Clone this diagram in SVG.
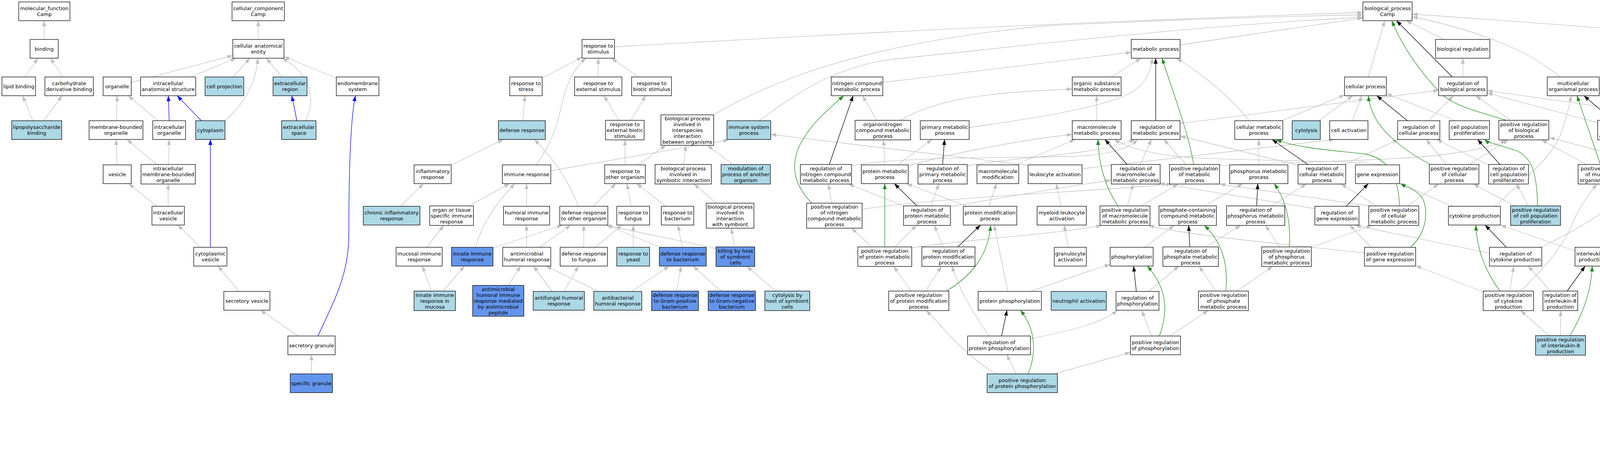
<svg xmlns="http://www.w3.org/2000/svg" width="5325" height="1203" viewBox="0 0 5325 1203">
<defs>
<style>
.nd rect{fill:#fff;stroke:#000;stroke-width:1.3}
.nd.lb rect{fill:#add8e6}
.nd.cb rect{fill:#6495ed}
.nd text{font-family:"DejaVu Sans","Liberation Sans",sans-serif;font-size:13px;text-anchor:middle;fill:#000}
#edges path{fill:none;stroke-width:1.3}
#edges .g{stroke:#c0c0c0;marker-end:url(#mg)}
#edges .k{stroke:#000;marker-end:url(#mk)}
#edges .gr{stroke:#228b22;marker-end:url(#mgr)}
#edges .b{stroke:#0000ff;marker-end:url(#mb)}
</style>
<marker id="mg" viewBox="0 0 14 10" refX="14" refY="5" markerWidth="14" markerHeight="10" markerUnits="userSpaceOnUse" orient="auto"><path d="M0,0L14,5L0,10z" fill="#c0c0c0"/></marker>
<marker id="mk" viewBox="0 0 14 10" refX="14" refY="5" markerWidth="14" markerHeight="10" markerUnits="userSpaceOnUse" orient="auto"><path d="M0,0L14,5L0,10z" fill="#000"/></marker>
<marker id="mgr" viewBox="0 0 14 10" refX="14" refY="5" markerWidth="14" markerHeight="10" markerUnits="userSpaceOnUse" orient="auto"><path d="M0,0L14,5L0,10z" fill="#228b22"/></marker>
<marker id="mb" viewBox="0 0 14 10" refX="14" refY="5" markerWidth="14" markerHeight="10" markerUnits="userSpaceOnUse" orient="auto"><path d="M0,0L14,5L0,10z" fill="#0000ff"/></marker>
</defs>
<rect width="5325" height="1203" fill="#fff"/>
<g id="edges">
<path class="g" d="M113,101L113,53"/>
<path class="g" d="M64,197L97,149"/>
<path class="g" d="M161,197L129,149"/>
<path class="g" d="M84,309L58,245"/>
<path class="g" d="M112,309L159,245"/>
<path class="g" d="M661,101L661,53"/>
<path class="g" d="M336,211L596,142"/>
<path class="g" d="M488,197L604,149"/>
<path class="g" d="M596,197L640,149"/>
<path class="g" d="M576,309C620,270 655,220 660,149"/>
<path class="g" d="M722,197L682,149"/>
<path class="g" d="M782,309C812,250 790,185 722,149"/>
<path class="g" d="M861,200L727,145"/>
<path class="g" d="M298,309L300,245"/>
<path class="g" d="M404.5,309L328.5,245"/>
<path class="g" d="M300,422L297,357"/>
<path class="g" d="M401,421L325,357"/>
<path class="g" d="M431,421L433,357"/>
<path class="g" d="M401,528L329.5,470"/>
<path class="g" d="M430.5,528L430.5,471"/>
<path class="g" d="M514,633L455,576"/>
<path class="g" d="M612,746L558,681"/>
<path class="g" d="M763,860L667,794"/>
<path class="g" d="M797,957L797.5,908"/>
<path class="b" d="M433,309L431,245"/>
<path class="b" d="M515.5,309L453.5,245"/>
<path class="b" d="M760,309L747,245"/>
<path class="b" d="M538.5,633L538.5,357"/>
<path class="b" d="M814,860C860,760 893,700 893,600C893,400 900,290 910,245"/>
<path class="g" d="M1573,120Q2600,60 3489,32"/>
<path class="g" d="M1388,200L1490,146"/>
<path class="g" d="M1372,422C1420,360 1430,300 1440,260C1455,200 1475,170 1500,149"/>
<path class="g" d="M1531.5,197L1531.5,149"/>
<path class="g" d="M1634,197L1565.5,149"/>
<path class="g" d="M1338,309L1344,245"/>
<path class="g" d="M1584,308L1546,245"/>
<path class="g" d="M1615,308L1653,245"/>
<path class="g" d="M1827,294C1960,215 2200,110 2680,66Q3100,45 3489,38"/>
<path class="g" d="M1944,309C2050,230 2150,165 2300,150C2600,120 3000,70 3489,44"/>
<path class="g" d="M1155,423L1288,357"/>
<path class="g" d="M1026,528L1084,470"/>
<path class="g" d="M1410,437L1866,358"/>
<path class="g" d="M1201,527L1304.5,470"/>
<path class="g" d="M1348,528L1348,470"/>
<path class="g" d="M1217,633C1235,570 1270,520 1318,470"/>
<path class="g" d="M1600,422L1600,358"/>
<path class="g" d="M1634,422L1704.5,372"/>
<path class="g" d="M1750,421L1756,372"/>
<path class="g" d="M1876,421L1811,372"/>
<path class="g" d="M1481,528C1450,450 1410,400 1368,357"/>
<path class="g" d="M1518.5,528L1576,470"/>
<path class="g" d="M1616,528L1604.8,470"/>
<path class="g" d="M1704,528L1630,470"/>
<path class="g" d="M1833,520L1777,471"/>
<path class="g" d="M1092,633L1136,577"/>
<path class="g" d="M1262,635L1440,576"/>
<path class="g" d="M1348,633L1348,576"/>
<path class="g" d="M1381.5,633L1461,576"/>
<path class="g" d="M1494.5,633L1494.5,576"/>
<path class="g" d="M1523.5,633L1592,576"/>
<path class="g" d="M1621,633L1621,576"/>
<path class="g" d="M1690,633L1552.5,576"/>
<path class="g" d="M1746,633L1736,576"/>
<path class="g" d="M1833,636C1720,610 1640,598 1553,576"/>
<path class="g" d="M1880,632L1872,584"/>
<path class="g" d="M1104,745L1081.5,681"/>
<path class="g" d="M1134,745L1189,681"/>
<path class="g" d="M1300.5,731L1333,681"/>
<path class="g" d="M1413,746L1366,681"/>
<path class="g" d="M1444,746L1481,681"/>
<path class="g" d="M1532,746L1398,681"/>
<path class="g" d="M1617,746L1713,681"/>
<path class="g" d="M1732,745L1744,681"/>
<path class="g" d="M1845.7,745L1774.6,681"/>
<path class="g" d="M1986,745L1912,682"/>
<path class="g" d="M3021,115L3489,46"/>
<path class="g" d="M2260,211L2896,134"/>
<path class="g" d="M2245,308L2208,245"/>
<path class="g" d="M2305,308C2400,250 2550,235 2745,228"/>
<path class="g" d="M2481,326C2600,310 2800,280 2880,245C2930,220 2945,190 2950,149"/>
<path class="g" d="M2845,197L2920.75,149"/>
<path class="g" d="M2807.5,309L2807.5,245"/>
<path class="g" d="M3021,316L3683,231"/>
<path class="g" d="M3198,309C3150,250 3080,190 3012,149"/>
<path class="g" d="M3280.5,309L3442,243"/>
<path class="g" d="M3376,309L3463,245"/>
<path class="g" d="M3462,309L3486,245"/>
<path class="g" d="M3502.6,197L3545,53"/>
<path class="g" d="M3656,309L3721,245"/>
<path class="g" d="M3726,309L3549,240"/>
<path class="g" d="M3866,308L3778,245"/>
<path class="g" d="M3745,197L3745,149"/>
<path class="g" d="M3696.5,101L3600,53"/>
<path class="g" d="M3993,197C3930,140 3800,80 3615,43"/>
<path class="g" d="M4090,314L3807,238"/>
<path class="g" d="M4433,320L3807,232"/>
<path class="g" d="M4697,119Q4100,70 3615,36"/>
<path class="g" d="M4843,197L4780,149"/>
<path class="g" d="M4711,309L4829.5,245"/>
<path class="g" d="M4604,309C4520,285 4300,250 4094,229"/>
<path class="g" d="M5080,309C5040,240 4940,170 4801,140"/>
<path class="g" d="M2180,424C2300,400 2600,405 2750,400C2850,395 2890,380 2912,357"/>
<path class="g" d="M2265,422L2262,358"/>
<path class="g" d="M2297,422L2386,357"/>
<path class="g" d="M2325,424C2450,390 2600,360 2745,344"/>
<path class="g" d="M2476,425C2600,400 2800,400 2905,357"/>
<path class="g" d="M2600,422L2752,357"/>
<path class="g" d="M2770,432L3416,357"/>
<path class="g" d="M2632,423L1973,344"/>
<path class="g" d="M2919,421L2947.7,357"/>
<path class="g" d="M3036,421L2979.5,357"/>
<path class="g" d="M3122,424C3300,415 3600,410 3700,395C3780,385 3830,372 3855,358"/>
<path class="g" d="M3222.5,422L3222.5,357"/>
<path class="g" d="M3323,423L3021,348"/>
<path class="g" d="M3440,422L3580,357"/>
<path class="g" d="M3540,422C3500,410 3100,412 3010,400C2930,390 2880,375 2853,357"/>
<path class="g" d="M3702.5,421L3651,357"/>
<path class="g" d="M3762,421L3861.5,358"/>
<path class="g" d="M3812,423L3678,357"/>
<path class="g" d="M4118,421L4146,358"/>
<path class="g" d="M4061,421L3946.6,358"/>
<path class="g" d="M4350,421L4447,358"/>
<path class="g" d="M4248,426L3966,352"/>
<path class="g" d="M4485,421L4485,358"/>
<path class="g" d="M4412,421L4222,358"/>
<path class="g" d="M4700,422C4760,350 4830,300 4855,245"/>
<path class="g" d="M4763,424L4537,355"/>
<path class="g" d="M5031,422C5010,340 4960,280 4912,245"/>
<path class="g" d="M5241,421C5220,300 5100,190 4801,132"/>
<path class="g" d="M2129,520L2121,471"/>
<path class="g" d="M2316,528L2172,471"/>
<path class="g" d="M2382.4,527L2403.6,471"/>
<path class="g" d="M2433,529C2600,500 2750,475 2845,461"/>
<path class="g" d="M2532,528L2551,470"/>
<path class="g" d="M2475,528L2321,470"/>
<path class="g" d="M2716,528L2704,470"/>
<path class="g" d="M2886,527L2901,471"/>
<path class="g" d="M2922,527L3016,471"/>
<path class="g" d="M3083.5,527L3181.5,470"/>
<path class="g" d="M3254.5,527L3344,471"/>
<path class="g" d="M3366,534L2968,469"/>
<path class="g" d="M3525,527L3433,471"/>
<path class="g" d="M3603,527L3683,471"/>
<path class="g" d="M3510,528L3122,471"/>
<path class="g" d="M3827,528C3900,460 3980,400 4000,330C4012,290 4018,270 4022,245"/>
<path class="g" d="M3718,528L3583,469"/>
<path class="g" d="M3913,527L3882,471"/>
<path class="g" d="M3878,527L3772,471"/>
<path class="g" d="M4690,528L4678,470"/>
<path class="g" d="M5077,528C5110,490 5125,450 5120,410C5117,385 5114,370 5112,357"/>
<path class="g" d="M2207,536C2400,505 2800,490 3000,471"/>
<path class="g" d="M2291,632L2346,577"/>
<path class="g" d="M2232,632L2180,584"/>
<path class="g" d="M2334,634C2500,610 2700,600 2820,577"/>
<path class="g" d="M2414,632L2392,577"/>
<path class="g" d="M2735,633L2724,576"/>
<path class="g" d="M2930,633L3006,577"/>
<path class="g" d="M3087,632L3176,577"/>
<path class="g" d="M3276,632L3240,577"/>
<path class="g" d="M3357,633L3512,577"/>
<path class="g" d="M3510,633L3455,576"/>
<path class="g" d="M3493,648C3300,625 3050,605 2940,577"/>
<path class="g" d="M3813,648L3470,577"/>
<path class="g" d="M3945,633C4050,580 4200,500 4195,430C4192,400 4185,380 4177,358"/>
<path class="g" d="M4032,642L3841,576"/>
<path class="g" d="M4633,633C4610,590 4600,540 4615,505C4622,490 4630,480 4637,470"/>
<path class="g" d="M2369,745L2410,682"/>
<path class="g" d="M2332,745L2288,682"/>
<path class="g" d="M2580,746L2545,576"/>
<path class="g" d="M2638,746C2700,725 2780,695 2842,677"/>
<path class="g" d="M2940,746L3018,681"/>
<path class="g" d="M3113,745L3070,682"/>
<path class="g" d="M3166,745L3258,682"/>
<path class="g" d="M3865,745L3875,682"/>
<path class="g" d="M3797,747L3624,680"/>
<path class="g" d="M3893,745C3960,680 4010,620 4030,560C4050,520 4070,495 4088,471"/>
<path class="g" d="M3969,745L3912,681"/>
<path class="g" d="M4560,745C4540,650 4505,540 4494,471"/>
<path class="g" d="M4934,746C4940,600 4945,450 4930,380C4915,310 4900,280 4891,245"/>
<path class="g" d="M2532,860C2490,800 2455,740 2437,681"/>
<path class="g" d="M2638,867C2720,850 2820,830 2860,794"/>
<path class="g" d="M2948,860L2923,795"/>
<path class="g" d="M2994,860L3093,795"/>
<path class="g" d="M3965,859L3893,795"/>
<path class="g" d="M3995,859L3995,795"/>
<path class="g" d="M4567,859L4567,795"/>
<path class="g" d="M4524,859C4400,750 4250,620 4200,560C4160,515 4140,490 4132,471"/>
<path class="g" d="M4545,859C4480,760 4400,620 4360,560C4340,520 4330,495 4326,471"/>
<path class="g" d="M4954,860C5000,790 5040,680 5045,576"/>
<path class="g" d="M2699,957L2894,902"/>
<path class="g" d="M2602,957L2577,908"/>
<path class="g" d="M2549,957C2490,920 2440,870 2405,830C2385,808 2376,800 2371,795"/>
<path class="g" d="M4973,967C5150,900 5200,850 5205,760C5208,650 5210,560 5236,471"/>
<path class="g" d="M4812,1053L4590,795"/>
<path class="g" d="M4833.5,1053L4833.5,471"/>
<path class="g" d="M4810,1149L4592,908"/>
<path class="g" d="M4833.5,1149L4833.5,1101"/>
<path class="k" d="M2958.5,309L2958.5,149"/>
<path class="k" d="M3603,309L3524.5,245"/>
<path class="k" d="M3718,197L3575,53"/>
<path class="k" d="M4128,308L4055,245"/>
<path class="k" d="M4516,308L4722,149"/>
<path class="k" d="M2123,421L2184,245"/>
<path class="k" d="M2413,421L2418,357"/>
<path class="k" d="M2885.5,421L2828.5,357"/>
<path class="k" d="M3348,421L3256.5,357"/>
<path class="k" d="M3840,421L3782.5,357"/>
<path class="k" d="M4525,421L4626,357"/>
<path class="k" d="M4891,421L5043,357"/>
<path class="k" d="M2347.5,527L2289.5,470"/>
<path class="k" d="M3217,527L3220,470"/>
<path class="k" d="M3446,528L3503,470"/>
<path class="k" d="M2452,632L2510,576"/>
<path class="k" d="M3046,633L3043,577"/>
<path class="k" d="M3856,633L3802,576"/>
<path class="k" d="M2909,746L2902,681"/>
<path class="k" d="M4012,745L4058,681"/>
<path class="k" d="M4585,745L4633,681"/>
<path class="k" d="M2564,860L2578,794"/>
<path class="k" d="M4856,1053L4903,1005"/>
<path class="gr" d="M3857,308C3780,285 3720,270 3690,240C3640,190 3590,120 3563,53"/>
<path class="gr" d="M3056,421C3040,330 3000,230 2975,149"/>
<path class="gr" d="M3662,421C3600,390 3540,340 3520,300C3510,280 3505,265 3503,245"/>
<path class="gr" d="M4097,421L4037,245"/>
<path class="gr" d="M4325,421C4370,340 4430,270 4500,228C4570,185 4640,160 4697,145"/>
<path class="gr" d="M2078,520C2040,480 2025,440 2040,390C2060,330 2120,280 2160,245"/>
<path class="gr" d="M2862,527C2830,480 2812,420 2811,357"/>
<path class="gr" d="M3583,527C3580,460 3560,410 3500,395C3420,385 3320,380 3267,357"/>
<path class="gr" d="M3936,527C3935,440 3920,400 3880,385C3840,372 3810,365 3800,357"/>
<path class="gr" d="M2265,632L2265,470"/>
<path class="gr" d="M3301,632C3305,560 3290,510 3262,470"/>
<path class="gr" d="M3610,633C3650,600 3660,540 3640,505C3625,485 3600,478 3585,470"/>
<path class="gr" d="M2423,745C2480,710 2530,660 2536,577"/>
<path class="gr" d="M3138,745C3145,680 3130,620 3083,577"/>
<path class="gr" d="M3840,745C3800,690 3782,640 3778,576"/>
<path class="gr" d="M2968,860C2990,800 2990,740 2937,681"/>
<path class="gr" d="M4019,859C4055,800 4074,740 4076,681"/>
<path class="gr" d="M4591,859C4620,800 4645,750 4649,681"/>
<path class="gr" d="M2632,957C2655,900 2650,840 2612,794"/>
<path class="gr" d="M4856,1149C4890,1100 4912,1050 4920,1005"/>
<path class="b" d="M5051.5,309L4922,245"/>
<path class="b" d="M4667,422L4667,357"/>
<path class="b" d="M4978,428L4745,357"/>
<path class="b" d="M5216,421L5131,357"/>
<path class="b" d="M5047,528L5043,470"/>
<path class="b" d="M4660,633L4683,576"/>
<path class="b" d="M4886,751L4697,676"/>
<path class="b" d="M4931.5,860L4931.5,794"/>
<path class="b" d="M4928,957L4930,908"/>
</g>
<g id="mf" class="nd"><rect x="48" y="5" width="131" height="48"/><text x="113.5" y="26"><tspan x="113.5">molecular_function</tspan><tspan x="113.5" dy="15">Camp</tspan></text></g>
<g id="cc" class="nd"><rect x="594" y="5" width="134" height="48"/><text x="661" y="26"><tspan x="661">cellular_component</tspan><tspan x="661" dy="15">Camp</tspan></text></g>
<g id="bp" class="nd"><rect x="3489" y="5" width="126" height="48"/><text x="3552" y="26"><tspan x="3552">biological_process</tspan><tspan x="3552" dy="15">Camp</tspan></text></g>
<g id="binding" class="nd"><rect x="77" y="101" width="72" height="48"/><text x="113" y="129.5">binding</text></g>
<g id="cae" class="nd"><rect x="596" y="101" width="131" height="48"/><text x="661.5" y="122"><tspan x="661.5">cellular anatomical</tspan><tspan x="661.5" dy="15">entity</tspan></text></g>
<g id="rts" class="nd"><rect x="1490" y="101" width="83" height="48"/><text x="1531.5" y="122"><tspan x="1531.5">response to</tspan><tspan x="1531.5" dy="15">stimulus</tspan></text></g>
<g id="metab" class="nd"><rect x="2896" y="101" width="125" height="48"/><text x="2958.5" y="129.5">metabolic process</text></g>
<g id="bioreg" class="nd"><rect x="3675" y="101" width="139" height="48"/><text x="3744.5" y="129.5">biological regulation</text></g>
<g id="devproc" class="nd"><rect x="4697" y="101" width="104" height="48"/><text x="4749" y="122"><tspan x="4749">developmental</tspan><tspan x="4749" dy="15">process</tspan></text></g>
<g id="lipidb" class="nd"><rect x="5" y="197" width="86" height="48"/><text x="48" y="225.5">lipid binding</text></g>
<g id="carbb" class="nd"><rect x="115" y="197" width="124" height="48"/><text x="177" y="218"><tspan x="177">carbohydrate</tspan><tspan x="177" dy="15">derivative binding</tspan></text></g>
<g id="organelle" class="nd"><rect x="264" y="197" width="72" height="48"/><text x="300" y="225.5">organelle</text></g>
<g id="ias" class="nd"><rect x="360" y="197" width="141" height="48"/><text x="430.5" y="218"><tspan x="430.5">intracellular</tspan><tspan x="430.5" dy="15">anatomical structure</tspan></text></g>
<g id="cellproj" class="nd lb"><rect x="525" y="197" width="99" height="48"/><text x="574.5" y="225.5">cell projection</text></g>
<g id="extreg" class="nd lb"><rect x="699" y="197" width="87" height="48"/><text x="742.5" y="218"><tspan x="742.5">extracellular</tspan><tspan x="742.5" dy="15">region</tspan></text></g>
<g id="endomem" class="nd"><rect x="861" y="197" width="109" height="48"/><text x="915.5" y="218"><tspan x="915.5">endomembrane</tspan><tspan x="915.5" dy="15">system</tspan></text></g>
<g id="rstress" class="nd"><rect x="1305" y="197" width="83" height="48"/><text x="1346.5" y="218"><tspan x="1346.5">response to</tspan><tspan x="1346.5" dy="15">stress</tspan></text></g>
<g id="rextstim" class="nd"><rect x="1471" y="197" width="121" height="48"/><text x="1531.5" y="218"><tspan x="1531.5">response to</tspan><tspan x="1531.5" dy="15">external stimulus</tspan></text></g>
<g id="rbiotic" class="nd"><rect x="1617" y="197" width="102" height="48"/><text x="1668" y="218"><tspan x="1668">response to</tspan><tspan x="1668" dy="15">biotic stimulus</tspan></text></g>
<g id="ncmp" class="nd"><rect x="2128" y="197" width="132" height="48"/><text x="2194" y="218"><tspan x="2194">nitrogen compound</tspan><tspan x="2194" dy="15">metabolic process</tspan></text></g>
<g id="osmp" class="nd"><rect x="2745" y="197" width="125" height="48"/><text x="2807.5" y="218"><tspan x="2807.5">organic substance</tspan><tspan x="2807.5" dy="15">metabolic process</tspan></text></g>
<g id="cellproc" class="nd"><rect x="3442" y="197" width="107" height="48"/><text x="3495.5" y="225.5">cellular process</text></g>
<g id="rbp" class="nd"><rect x="3683" y="197" width="124" height="48"/><text x="3745" y="218"><tspan x="3745">regulation of</tspan><tspan x="3745" dy="15">biological process</tspan></text></g>
<g id="mop" class="nd"><rect x="3961" y="197" width="133" height="48"/><text x="4027.5" y="218"><tspan x="4027.5">multicellular</tspan><tspan x="4027.5" dy="15">organismal process</tspan></text></g>
<g id="asd" class="nd"><rect x="4803" y="197" width="142" height="48"/><text x="4874" y="218"><tspan x="4874">anatomical structure</tspan><tspan x="4874" dy="15">development</tspan></text></g>
<g id="lpsb" class="nd lb"><rect x="30" y="309" width="128" height="48"/><text x="94" y="330"><tspan x="94">lipopolysaccharide</tspan><tspan x="94" dy="15">binding</tspan></text></g>
<g id="mbo" class="nd"><rect x="228" y="309" width="138" height="48"/><text x="297" y="330"><tspan x="297">membrane-bounded</tspan><tspan x="297" dy="15">organelle</tspan></text></g>
<g id="intorg" class="nd"><rect x="391" y="309" width="84" height="48"/><text x="433" y="330"><tspan x="433">intracellular</tspan><tspan x="433" dy="15">organelle</tspan></text></g>
<g id="cytoplasm" class="nd lb"><rect x="501" y="309" width="75" height="48"/><text x="538.5" y="337.5">cytoplasm</text></g>
<g id="extspace" class="nd lb"><rect x="721" y="309" width="88" height="48"/><text x="765" y="330"><tspan x="765">extracellular</tspan><tspan x="765" dy="15">space</tspan></text></g>
<g id="defresp" class="nd lb"><rect x="1276" y="309" width="120" height="48"/><text x="1336" y="337.5">defense response</text></g>
<g id="rextbiotic" class="nd"><rect x="1550" y="308" width="99" height="50"/><text x="1599.5" y="322.5"><tspan x="1599.5">response to</tspan><tspan x="1599.5" dy="15">external biotic</tspan><tspan x="1599.5" dy="15">stimulus</tspan></text></g>
<g id="bpinter" class="nd"><rect x="1692" y="294" width="135" height="78"/><text x="1759.5" y="307.5"><tspan x="1759.5">biological process</tspan><tspan x="1759.5" dy="15">involved in</tspan><tspan x="1759.5" dy="15">interspecies</tspan><tspan x="1759.5" dy="15">interaction</tspan><tspan x="1759.5" dy="15">between organisms</tspan></text></g>
<g id="isp" class="nd lb"><rect x="1861" y="309" width="112" height="48"/><text x="1917" y="330"><tspan x="1917">immune system</tspan><tspan x="1917" dy="15">process</tspan></text></g>
<g id="oncmp" class="nd"><rect x="2189" y="308" width="142" height="50"/><text x="2260" y="322.5"><tspan x="2260">organonitrogen</tspan><tspan x="2260" dy="15">compound metabolic</tspan><tspan x="2260" dy="15">process</tspan></text></g>
<g id="pmp" class="nd"><rect x="2356" y="309" width="125" height="48"/><text x="2418.5" y="330"><tspan x="2418.5">primary metabolic</tspan><tspan x="2418.5" dy="15">process</tspan></text></g>
<g id="mmp" class="nd"><rect x="2745" y="309" width="125" height="48"/><text x="2807.5" y="330"><tspan x="2807.5">macromolecule</tspan><tspan x="2807.5" dy="15">metabolic process</tspan></text></g>
<g id="rmp" class="nd"><rect x="2896" y="309" width="125" height="48"/><text x="2958.5" y="330"><tspan x="2958.5">regulation of</tspan><tspan x="2958.5" dy="15">metabolic process</tspan></text></g>
<g id="cmp" class="nd"><rect x="3161" y="309" width="123" height="48"/><text x="3222.5" y="330"><tspan x="3222.5">cellular metabolic</tspan><tspan x="3222.5" dy="15">process</tspan></text></g>
<g id="cytolysis" class="nd lb"><rect x="3308" y="309" width="72" height="48"/><text x="3344" y="337.5">cytolysis</text></g>
<g id="cellact" class="nd"><rect x="3404" y="309" width="98" height="48"/><text x="3453" y="337.5">cell activation</text></g>
<g id="rcp" class="nd"><rect x="3578" y="309" width="108" height="48"/><text x="3632" y="330"><tspan x="3632">regulation of</tspan><tspan x="3632" dy="15">cellular process</tspan></text></g>
<g id="cpp" class="nd"><rect x="3710" y="309" width="103" height="48"/><text x="3761.5" y="330"><tspan x="3761.5">cell population</tspan><tspan x="3761.5" dy="15">proliferation</tspan></text></g>
<g id="prbp" class="nd"><rect x="3837" y="308" width="128" height="50"/><text x="3901" y="322.5"><tspan x="3901">positive regulation</tspan><tspan x="3901" dy="15">of biological</tspan><tspan x="3901" dy="15">process</tspan></text></g>
<g id="rmop" class="nd"><rect x="4090" y="308" width="134" height="50"/><text x="4157" y="322.5"><tspan x="4157">regulation of</tspan><tspan x="4157" dy="15">multicellular</tspan><tspan x="4157" dy="15">organismal process</tspan></text></g>
<g id="rdp" class="nd"><rect x="4433" y="308" width="104" height="50"/><text x="4485" y="322.5"><tspan x="4485">regulation of</tspan><tspan x="4485" dy="15">developmental</tspan><tspan x="4485" dy="15">process</tspan></text></g>
<g id="mod" class="nd"><rect x="4588" y="309" width="157" height="48"/><text x="4666.5" y="330"><tspan x="4666.5">multicellular</tspan><tspan x="4666.5" dy="15">organism development</tspan></text></g>
<g id="asm" class="nd"><rect x="5029" y="309" width="141" height="48"/><text x="5099.5" y="330"><tspan x="5099.5">anatomical structure</tspan><tspan x="5099.5" dy="15">morphogenesis</tspan></text></g>
<g id="vesicle" class="nd"><rect x="264" y="422" width="72" height="48"/><text x="300" y="450.5">vesicle</text></g>
<g id="imbo" class="nd"><rect x="361" y="421" width="139" height="50"/><text x="430.5" y="435.5"><tspan x="430.5">intracellular</tspan><tspan x="430.5" dy="15">membrane-bounded</tspan><tspan x="430.5" dy="15">organelle</tspan></text></g>
<g id="inflam" class="nd"><rect x="1060" y="422" width="95" height="48"/><text x="1107.5" y="443"><tspan x="1107.5">inflammatory</tspan><tspan x="1107.5" dy="15">response</tspan></text></g>
<g id="immresp" class="nd"><rect x="1286" y="422" width="124" height="48"/><text x="1348" y="450.5">immune response</text></g>
<g id="rtoo" class="nd"><rect x="1548" y="422" width="104" height="48"/><text x="1600" y="443"><tspan x="1600">response to</tspan><tspan x="1600" dy="15">other organism</tspan></text></g>
<g id="bpsym" class="nd"><rect x="1677" y="421" width="144" height="50"/><text x="1749" y="435.5"><tspan x="1749">biological process</tspan><tspan x="1749" dy="15">involved in</tspan><tspan x="1749" dy="15">symbiotic interaction</tspan></text></g>
<g id="modproc" class="nd lb"><rect x="1846" y="421" width="126" height="50"/><text x="1909" y="435.5"><tspan x="1909">modulation of</tspan><tspan x="1909" dy="15">process of another</tspan><tspan x="1909" dy="15">organism</tspan></text></g>
<g id="rncmp" class="nd"><rect x="2049" y="421" width="131" height="50"/><text x="2114.5" y="435.5"><tspan x="2114.5">regulation of</tspan><tspan x="2114.5" dy="15">nitrogen compound</tspan><tspan x="2114.5" dy="15">metabolic process</tspan></text></g>
<g id="protmp" class="nd"><rect x="2205" y="422" width="120" height="48"/><text x="2265" y="443"><tspan x="2265">protein metabolic</tspan><tspan x="2265" dy="15">process</tspan></text></g>
<g id="rprimmp" class="nd"><rect x="2350" y="421" width="126" height="50"/><text x="2413" y="435.5"><tspan x="2413">regulation of</tspan><tspan x="2413" dy="15">primary metabolic</tspan><tspan x="2413" dy="15">process</tspan></text></g>
<g id="macmod" class="nd"><rect x="2501" y="422" width="107" height="48"/><text x="2554.5" y="443"><tspan x="2554.5">macromolecule</tspan><tspan x="2554.5" dy="15">modification</tspan></text></g>
<g id="leukact" class="nd"><rect x="2632" y="422" width="138" height="48"/><text x="2701" y="450.5">leukocyte activation</text></g>
<g id="rmmp" class="nd"><rect x="2845" y="421" width="125" height="50"/><text x="2907.5" y="435.5"><tspan x="2907.5">regulation of</tspan><tspan x="2907.5" dy="15">macromolecule</tspan><tspan x="2907.5" dy="15">metabolic process</tspan></text></g>
<g id="prmp" class="nd"><rect x="2994" y="421" width="128" height="50"/><text x="3058" y="435.5"><tspan x="3058">positive regulation</tspan><tspan x="3058" dy="15">of metabolic</tspan><tspan x="3058" dy="15">process</tspan></text></g>
<g id="phosmp" class="nd"><rect x="3148" y="422" width="149" height="48"/><text x="3222.5" y="443"><tspan x="3222.5">phosphorus metabolic</tspan><tspan x="3222.5" dy="15">process</tspan></text></g>
<g id="rcmp" class="nd"><rect x="3323" y="421" width="122" height="50"/><text x="3384" y="435.5"><tspan x="3384">regulation of</tspan><tspan x="3384" dy="15">cellular metabolic</tspan><tspan x="3384" dy="15">process</tspan></text></g>
<g id="geneexp" class="nd"><rect x="3470" y="422" width="113" height="48"/><text x="3526.5" y="450.5">gene expression</text></g>
<g id="prcp" class="nd"><rect x="3659" y="421" width="127" height="50"/><text x="3722.5" y="435.5"><tspan x="3722.5">positive regulation</tspan><tspan x="3722.5" dy="15">of cellular</tspan><tspan x="3722.5" dy="15">process</tspan></text></g>
<g id="rcpp" class="nd"><rect x="3811" y="421" width="102" height="50"/><text x="3862" y="435.5"><tspan x="3862">regulation of</tspan><tspan x="3862" dy="15">cell population</tspan><tspan x="3862" dy="15">proliferation</tspan></text></g>
<g id="prmop" class="nd"><rect x="4040" y="421" width="134" height="50"/><text x="4107" y="435.5"><tspan x="4107">positive regulation</tspan><tspan x="4107" dy="15">of multicellular</tspan><tspan x="4107" dy="15">organismal process</tspan></text></g>
<g id="prdp" class="nd"><rect x="4248" y="421" width="128" height="50"/><text x="4312" y="435.5"><tspan x="4312">positive regulation</tspan><tspan x="4312" dy="15">of developmental</tspan><tspan x="4312" dy="15">process</tspan></text></g>
<g id="rmod" class="nd"><rect x="4401" y="421" width="169" height="50"/><text x="4485.5" y="435.5"><tspan x="4485.5">regulation of</tspan><tspan x="4485.5" dy="15">multicellular</tspan><tspan x="4485.5" dy="15">organismal development</tspan></text></g>
<g id="sysdev" class="nd"><rect x="4595" y="422" width="144" height="48"/><text x="4667" y="450.5">system development</text></g>
<g id="rasm" class="nd"><rect x="4763" y="421" width="141" height="50"/><text x="4833.5" y="435.5"><tspan x="4833.5">regulation of</tspan><tspan x="4833.5" dy="15">anatomical structure</tspan><tspan x="4833.5" dy="15">morphogenesis</tspan></text></g>
<g id="tubedev" class="nd"><rect x="4978" y="422" width="126" height="48"/><text x="5041" y="450.5">tube development</text></g>
<g id="asfim" class="nd"><rect x="5179" y="421" width="141" height="50"/><text x="5249.5" y="435.5"><tspan x="5249.5">anatomical structure</tspan><tspan x="5249.5" dy="15">formation involved</tspan><tspan x="5249.5" dy="15">in morphogenesis</tspan></text></g>
<g id="intves" class="nd"><rect x="389" y="528" width="83" height="48"/><text x="430.5" y="549"><tspan x="430.5">intracellular</tspan><tspan x="430.5" dy="15">vesicle</tspan></text></g>
<g id="chronic" class="nd lb"><rect x="930" y="528" width="145" height="48"/><text x="1002.5" y="549"><tspan x="1002.5">chronic inflammatory</tspan><tspan x="1002.5" dy="15">response</tspan></text></g>
<g id="otsir" class="nd"><rect x="1100" y="527" width="112" height="50"/><text x="1156" y="541.5"><tspan x="1156">organ or tissue</tspan><tspan x="1156" dy="15">specific immune</tspan><tspan x="1156" dy="15">response</tspan></text></g>
<g id="humoral" class="nd"><rect x="1289" y="528" width="118" height="48"/><text x="1348" y="549"><tspan x="1348">humoral immune</tspan><tspan x="1348" dy="15">response</tspan></text></g>
<g id="drtoo" class="nd"><rect x="1433" y="528" width="123" height="48"/><text x="1494.5" y="549"><tspan x="1494.5">defense response</tspan><tspan x="1494.5" dy="15">to other organism</tspan></text></g>
<g id="rfungus" class="nd"><rect x="1579" y="528" width="84" height="48"/><text x="1621" y="549"><tspan x="1621">response to</tspan><tspan x="1621" dy="15">fungus</tspan></text></g>
<g id="rbact" class="nd"><rect x="1693" y="528" width="83" height="48"/><text x="1734.5" y="549"><tspan x="1734.5">response to</tspan><tspan x="1734.5" dy="15">bacterium</tspan></text></g>
<g id="bpsymb" class="nd"><rect x="1808" y="520" width="122" height="64"/><text x="1869" y="534"><tspan x="1869">biological process</tspan><tspan x="1869" dy="15">involved in</tspan><tspan x="1869" dy="15">interaction</tspan><tspan x="1869" dy="15">with symbiont</tspan></text></g>
<g id="prncmp" class="nd"><rect x="2065" y="520" width="142" height="64"/><text x="2136" y="534"><tspan x="2136">positive regulation</tspan><tspan x="2136" dy="15">of nitrogen</tspan><tspan x="2136" dy="15">compound metabolic</tspan><tspan x="2136" dy="15">process</tspan></text></g>
<g id="rprotmp" class="nd"><rect x="2313" y="527" width="120" height="50"/><text x="2373" y="541.5"><tspan x="2373">regulation of</tspan><tspan x="2373" dy="15">protein metabolic</tspan><tspan x="2373" dy="15">process</tspan></text></g>
<g id="pmodp" class="nd"><rect x="2466" y="528" width="137" height="48"/><text x="2534.5" y="549"><tspan x="2534.5">protein modification</tspan><tspan x="2534.5" dy="15">process</tspan></text></g>
<g id="myeloid" class="nd"><rect x="2655" y="528" width="126" height="48"/><text x="2718" y="549"><tspan x="2718">myeloid leukocyte</tspan><tspan x="2718" dy="15">activation</tspan></text></g>
<g id="prmmp" class="nd"><rect x="2816" y="527" width="128" height="50"/><text x="2880" y="541.5"><tspan x="2880">positive regulation</tspan><tspan x="2880" dy="15">of macromolecule</tspan><tspan x="2880" dy="15">metabolic process</tspan></text></g>
<g id="pccmp" class="nd"><rect x="2967" y="527" width="147" height="50"/><text x="3040.5" y="541.5"><tspan x="3040.5">phosphate-containing</tspan><tspan x="3040.5" dy="15">compound metabolic</tspan><tspan x="3040.5" dy="15">process</tspan></text></g>
<g id="rphosmp" class="nd"><rect x="3140" y="527" width="149" height="50"/><text x="3214.5" y="541.5"><tspan x="3214.5">regulation of</tspan><tspan x="3214.5" dy="15">phosphorus metabolic</tspan><tspan x="3214.5" dy="15">process</tspan></text></g>
<g id="rge" class="nd"><rect x="3366" y="528" width="113" height="48"/><text x="3422.5" y="549"><tspan x="3422.5">regulation of</tspan><tspan x="3422.5" dy="15">gene expression</tspan></text></g>
<g id="prcmp" class="nd"><rect x="3504" y="527" width="128" height="50"/><text x="3568" y="541.5"><tspan x="3568">positive regulation</tspan><tspan x="3568" dy="15">of cellular</tspan><tspan x="3568" dy="15">metabolic process</tspan></text></g>
<g id="cytprod" class="nd"><rect x="3708" y="528" width="133" height="48"/><text x="3774.5" y="556.5">cytokine production</text></g>
<g id="prcpp" class="nd lb"><rect x="3867" y="527" width="128" height="50"/><text x="3931" y="541.5"><tspan x="3931">positive regulation</tspan><tspan x="3931" dy="15">of cell population</tspan><tspan x="3931" dy="15">proliferation</tspan></text></g>
<g id="csd" class="nd"><rect x="4622" y="528" width="144" height="48"/><text x="4694" y="549"><tspan x="4694">circulatory</tspan><tspan x="4694" dy="15">system development</tspan></text></g>
<g id="tubemorph" class="nd"><rect x="4978" y="528" width="139" height="48"/><text x="5047.5" y="556.5">tube morphogenesis</text></g>
<g id="cytves" class="nd"><rect x="496" y="633" width="85" height="48"/><text x="538.5" y="654"><tspan x="538.5">cytoplasmic</tspan><tspan x="538.5" dy="15">vesicle</tspan></text></g>
<g id="mucosal" class="nd"><rect x="1014" y="633" width="118" height="48"/><text x="1073" y="654"><tspan x="1073">mucosal immune</tspan><tspan x="1073" dy="15">response</tspan></text></g>
<g id="innate" class="nd cb"><rect x="1156" y="633" width="106" height="48"/><text x="1209" y="654"><tspan x="1209">innate immune</tspan><tspan x="1209" dy="15">response</tspan></text></g>
<g id="amhr" class="nd"><rect x="1287" y="633" width="123" height="48"/><text x="1348.5" y="654"><tspan x="1348.5">antimicrobial</tspan><tspan x="1348.5" dy="15">humoral response</tspan></text></g>
<g id="drfungus" class="nd"><rect x="1434" y="633" width="121" height="48"/><text x="1494.5" y="654"><tspan x="1494.5">defense response</tspan><tspan x="1494.5" dy="15">to fungus</tspan></text></g>
<g id="ryeast" class="nd lb"><rect x="1579" y="633" width="84" height="48"/><text x="1621" y="654"><tspan x="1621">response to</tspan><tspan x="1621" dy="15">yeast</tspan></text></g>
<g id="drbact" class="nd cb"><rect x="1688" y="633" width="120" height="48"/><text x="1748" y="654"><tspan x="1748">defense response</tspan><tspan x="1748" dy="15">to bacterium</tspan></text></g>
<g id="killing" class="nd cb"><rect x="1833" y="632" width="99" height="50"/><text x="1882.5" y="646.5"><tspan x="1882.5">killing by host</tspan><tspan x="1882.5" dy="15">of symbiont</tspan><tspan x="1882.5" dy="15">cells</tspan></text></g>
<g id="prprotmp" class="nd"><rect x="2196" y="632" width="138" height="50"/><text x="2265" y="646.5"><tspan x="2265">positive regulation</tspan><tspan x="2265" dy="15">of protein metabolic</tspan><tspan x="2265" dy="15">process</tspan></text></g>
<g id="rpmodp" class="nd"><rect x="2360" y="632" width="136" height="50"/><text x="2428" y="646.5"><tspan x="2428">regulation of</tspan><tspan x="2428" dy="15">protein modification</tspan><tspan x="2428" dy="15">process</tspan></text></g>
<g id="granulo" class="nd"><rect x="2699" y="633" width="82" height="48"/><text x="2740" y="654"><tspan x="2740">granulocyte</tspan><tspan x="2740" dy="15">activation</tspan></text></g>
<g id="phosph" class="nd"><rect x="2842" y="633" width="110" height="48"/><text x="2897" y="661.5">phosphorylation</text></g>
<g id="rphosphmp" class="nd"><rect x="2977" y="632" width="142" height="50"/><text x="3048" y="646.5"><tspan x="3048">regulation of</tspan><tspan x="3048" dy="15">phosphate metabolic</tspan><tspan x="3048" dy="15">process</tspan></text></g>
<g id="prphosmp" class="nd"><rect x="3230" y="632" width="127" height="50"/><text x="3293.5" y="646.5"><tspan x="3293.5">positive regulation</tspan><tspan x="3293.5" dy="15">of phosphorus</tspan><tspan x="3293.5" dy="15">metabolic process</tspan></text></g>
<g id="prge" class="nd"><rect x="3493" y="633" width="131" height="48"/><text x="3558.5" y="654"><tspan x="3558.5">positive regulation</tspan><tspan x="3558.5" dy="15">of gene expression</tspan></text></g>
<g id="rcytprod" class="nd"><rect x="3813" y="633" width="134" height="48"/><text x="3880" y="654"><tspan x="3880">regulation of</tspan><tspan x="3880" dy="15">cytokine production</tspan></text></g>
<g id="il8" class="nd"><rect x="4032" y="633" width="89" height="48"/><text x="4076.5" y="654"><tspan x="4076.5">interleukin-8</tspan><tspan x="4076.5" dy="15">production</tspan></text></g>
<g id="vascdev" class="nd"><rect x="4605" y="633" width="91" height="48"/><text x="4650.5" y="654"><tspan x="4650.5">vasculature</tspan><tspan x="4650.5" dy="15">development</tspan></text></g>
<g id="secves" class="nd"><rect x="573" y="746" width="118" height="48"/><text x="632" y="774.5">secretory vesicle</text></g>
<g id="innmuc" class="nd lb"><rect x="1060" y="745" width="106" height="50"/><text x="1113" y="759.5"><tspan x="1113">innate immune</tspan><tspan x="1113" dy="15">response in</tspan><tspan x="1113" dy="15">mucosa</tspan></text></g>
<g id="amp" class="nd cb"><rect x="1210" y="730.5" width="131" height="79"/><text x="1275.5" y="744.5"><tspan x="1275.5">antimicrobial</tspan><tspan x="1275.5" dy="15">humoral immune</tspan><tspan x="1275.5" dy="15">response mediated</tspan><tspan x="1275.5" dy="15">by antimicrobial</tspan><tspan x="1275.5" dy="15">peptide</tspan></text></g>
<g id="antifungal" class="nd lb"><rect x="1365" y="746" width="131" height="48"/><text x="1430.5" y="767"><tspan x="1430.5">antifungal humoral</tspan><tspan x="1430.5" dy="15">response</tspan></text></g>
<g id="antibact" class="nd lb"><rect x="1520" y="746" width="123" height="48"/><text x="1581.5" y="767"><tspan x="1581.5">antibacterial</tspan><tspan x="1581.5" dy="15">humoral response</tspan></text></g>
<g id="drgp" class="nd cb"><rect x="1668" y="745" width="120" height="50"/><text x="1728" y="759.5"><tspan x="1728">defense response</tspan><tspan x="1728" dy="15">to Gram-positive</tspan><tspan x="1728" dy="15">bacterium</tspan></text></g>
<g id="drgn" class="nd cb"><rect x="1813" y="745" width="121" height="50"/><text x="1873.5" y="759.5"><tspan x="1873.5">defense response</tspan><tspan x="1873.5" dy="15">to Gram-negative</tspan><tspan x="1873.5" dy="15">bacterium</tspan></text></g>
<g id="cytolhost" class="nd lb"><rect x="1958" y="745" width="115" height="50"/><text x="2015.5" y="759.5"><tspan x="2015.5">cytolysis by</tspan><tspan x="2015.5" dy="15">host of symbiont</tspan><tspan x="2015.5" dy="15">cells</tspan></text></g>
<g id="prpmodp" class="nd"><rect x="2275" y="745" width="154" height="50"/><text x="2352" y="759.5"><tspan x="2352">positive regulation</tspan><tspan x="2352" dy="15">of protein modification</tspan><tspan x="2352" dy="15">process</tspan></text></g>
<g id="protphos" class="nd"><rect x="2504" y="746" width="162" height="48"/><text x="2585" y="774.5">protein phosphorylation</text></g>
<g id="neutro" class="nd lb"><rect x="2691" y="746" width="141" height="48"/><text x="2761.5" y="774.5">neutrophil activation</text></g>
<g id="rphos" class="nd"><rect x="2857" y="746" width="110" height="48"/><text x="2912" y="767"><tspan x="2912">regulation of</tspan><tspan x="2912" dy="15">phosphorylation</tspan></text></g>
<g id="prphosphmp" class="nd"><rect x="3068" y="745" width="128" height="50"/><text x="3132" y="759.5"><tspan x="3132">positive regulation</tspan><tspan x="3132" dy="15">of phosphate</tspan><tspan x="3132" dy="15">metabolic process</tspan></text></g>
<g id="prcytprod" class="nd"><rect x="3797" y="745" width="129" height="50"/><text x="3861.5" y="759.5"><tspan x="3861.5">positive regulation</tspan><tspan x="3861.5" dy="15">of cytokine</tspan><tspan x="3861.5" dy="15">production</tspan></text></g>
<g id="ril8" class="nd"><rect x="3950" y="745" width="89" height="50"/><text x="3994.5" y="759.5"><tspan x="3994.5">regulation of</tspan><tspan x="3994.5" dy="15">interleukin-8</tspan><tspan x="3994.5" dy="15">production</tspan></text></g>
<g id="rvascdev" class="nd"><rect x="4521" y="745" width="91" height="50"/><text x="4566.5" y="759.5"><tspan x="4566.5">regulation of</tspan><tspan x="4566.5" dy="15">vasculature</tspan><tspan x="4566.5" dy="15">development</tspan></text></g>
<g id="bvdev" class="nd"><rect x="4886" y="746" width="91" height="48"/><text x="4931.5" y="767"><tspan x="4931.5">blood vessel</tspan><tspan x="4931.5" dy="15">development</tspan></text></g>
<g id="secgran" class="nd"><rect x="737" y="860" width="121" height="48"/><text x="797.5" y="888.5">secretory granule</text></g>
<g id="rprotphos" class="nd"><rect x="2477" y="860" width="161" height="48"/><text x="2557.5" y="881"><tspan x="2557.5">regulation of</tspan><tspan x="2557.5" dy="15">protein phosphorylation</tspan></text></g>
<g id="prphos" class="nd"><rect x="2894" y="860" width="128" height="48"/><text x="2958" y="881"><tspan x="2958">positive regulation</tspan><tspan x="2958" dy="15">of phosphorylation</tspan></text></g>
<g id="pril8" class="nd lb"><rect x="3931" y="859" width="128" height="50"/><text x="3995" y="873.5"><tspan x="3995">positive regulation</tspan><tspan x="3995" dy="15">of interleukin-8</tspan><tspan x="3995" dy="15">production</tspan></text></g>
<g id="prvascdev" class="nd"><rect x="4503" y="859" width="128" height="50"/><text x="4567" y="873.5"><tspan x="4567">positive regulation</tspan><tspan x="4567" dy="15">of vasculature</tspan><tspan x="4567" dy="15">development</tspan></text></g>
<g id="bvmorph" class="nd"><rect x="4878" y="860" width="107" height="48"/><text x="4931.5" y="881"><tspan x="4931.5">blood vessel</tspan><tspan x="4931.5" dy="15">morphogenesis</tspan></text></g>
<g id="specgran" class="nd cb"><rect x="743" y="957" width="108" height="48"/><text x="797" y="985.5">specific granule</text></g>
<g id="prprotphos" class="nd lb"><rect x="2527" y="957" width="180" height="48"/><text x="2617" y="978"><tspan x="2617">positive regulation</tspan><tspan x="2617" dy="15">of protein phosphorylation</tspan></text></g>
<g id="angio" class="nd"><rect x="4882" y="957" width="91" height="48"/><text x="4927.5" y="985.5">angiogenesis</text></g>
<g id="rangio" class="nd"><rect x="4788" y="1053" width="91" height="48"/><text x="4833.5" y="1074"><tspan x="4833.5">regulation of</tspan><tspan x="4833.5" dy="15">angiogenesis</tspan></text></g>
<g id="prangio" class="nd lb"><rect x="4770" y="1149" width="127" height="48"/><text x="4833.5" y="1170"><tspan x="4833.5">positive regulation</tspan><tspan x="4833.5" dy="15">of angiogenesis</tspan></text></g>
</svg>
